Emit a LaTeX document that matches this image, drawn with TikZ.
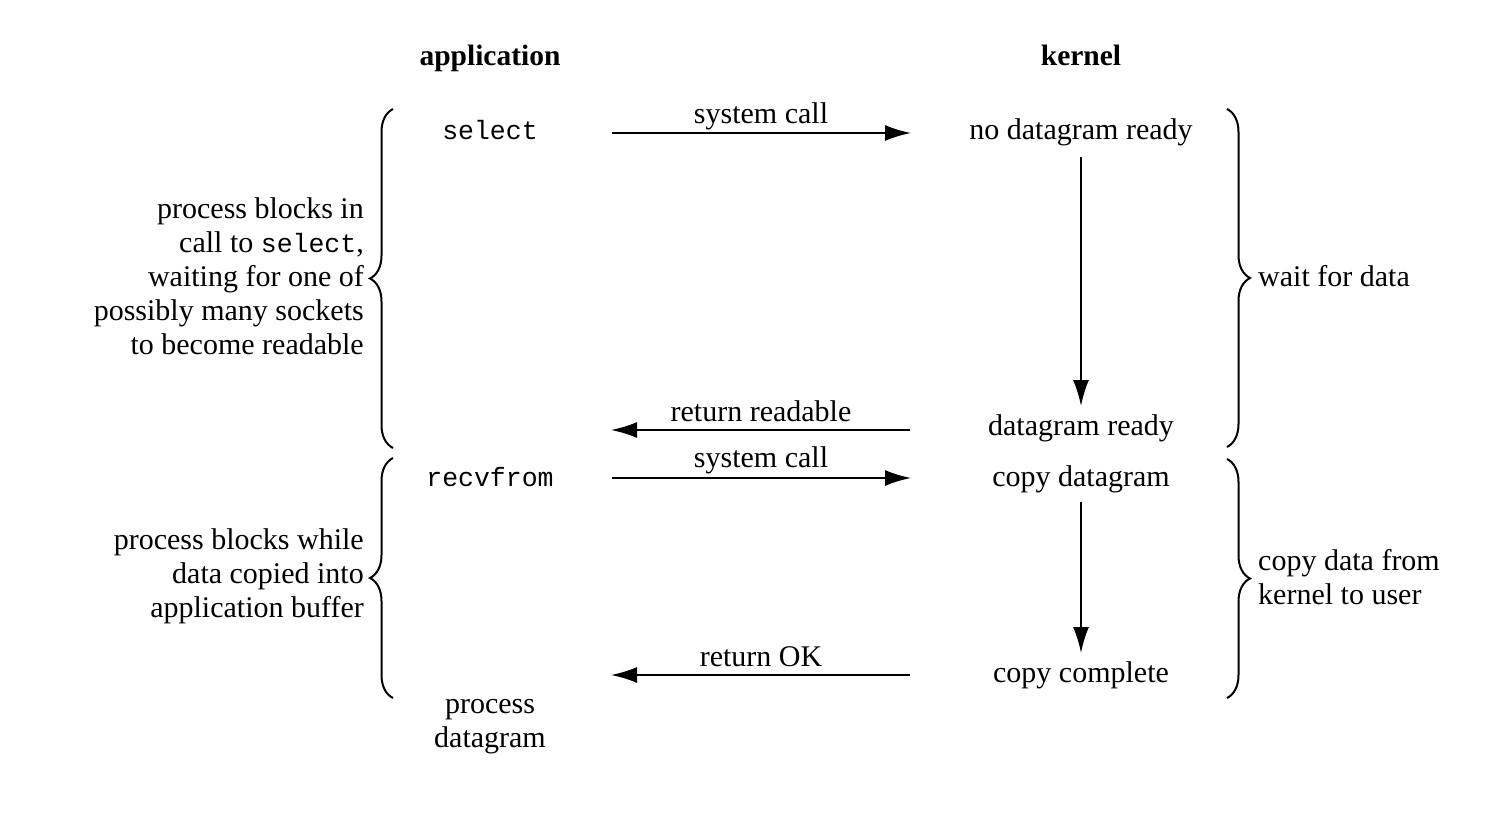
\documentclass[tikz,border=0pt]{standalone}
\usepackage{fontspec}
\setmainfont{Liberation Serif}
\setmonofont{Liberation Mono}
\usetikzlibrary{arrows.meta,decorations.pathreplacing}
\newcommand\codetxt[1]{{\fontsize{26.5}{34}\selectfont\ttfamily #1}}
\begin{document}
\begin{tikzpicture}[x=1pt,y=-1pt,
  txt/.style={inner sep=0pt, font=\fontsize{30}{34}\selectfont},
  code/.style={inner sep=0pt, anchor=base, font=\fontsize{26.5}{34}\selectfont\ttfamily},
  head/.style={inner sep=0pt, anchor=base, font=\fontsize{29.5}{34}\selectfont\bfseries},
  flow/.style={line width=2pt, -{Latex[length=26pt,width=16pt]}},
  brc/.style={line width=2pt, decorate, decoration={brace, amplitude=23pt}}]
\fill[white] (0,0) rectangle (1508,824);
\useasboundingbox (0,0) rectangle (1508,824);

% headers
\node[head] (app) at (490,66) {application};
\node[head] (ker) at (1081,66) {kernel};

% application column
\node[code] (sel) at (490,140) {select};
\node[code] (rcv) at (490,486) {recvfrom};
\node[txt, align=center] (proc) at (490,727) {process\\datagram};

% kernel column
\node[txt] (ndr) at (1081,132) {no datagram ready};
\node[txt] (dr)  at (1081,428) {datagram ready};
\node[txt] (cd)  at (1081,479) {copy datagram};
\node[txt] (cc)  at (1081,675) {copy complete};

% arrow end points
\coordinate (a1s) at (612,133); \coordinate (a1e) at (911,133);
\coordinate (a2s) at (910,430); \coordinate (a2e) at (611,430);
\coordinate (a3s) at (612,478); \coordinate (a3e) at (911,478);
\coordinate (a4s) at (910,675); \coordinate (a4e) at (611,675);
\coordinate (v1s) at (1081,157); \coordinate (v1e) at (1081,406);
\coordinate (v2s) at (1081,502); \coordinate (v2e) at (1081,653);

\draw[flow] (a1s) -- (a1e);
\draw[flow] (a2s) -- (a2e);
\draw[flow] (a3s) -- (a3e);
\draw[flow] (a4s) -- (a4e);
\draw[flow] (v1s) -- (v1e);
\draw[flow] (v2s) -- (v2e);

% arrow labels
\node[txt] (l1) at (761,116) {system call};
\node[txt] (l2) at (761,411) {return readable};
\node[txt] (l3) at (761,460) {system call};
\node[txt] (l4) at (761,657) {return OK};

% braces
\coordinate (lb1t) at (393,109); \coordinate (lb1b) at (393,448);
\coordinate (lb2t) at (393,458); \coordinate (lb2b) at (393,698);
\coordinate (rb1t) at (1227,109); \coordinate (rb1b) at (1227,447);
\coordinate (rb2t) at (1227,459); \coordinate (rb2b) at (1227,698);
\draw[brc] (lb1b) -- (lb1t);
\draw[brc] (lb2b) -- (lb2t);
\draw[brc] (rb1t) -- (rb1b);
\draw[brc] (rb2t) -- (rb2b);

% brace texts
\node[txt, align=right, anchor=east] (lt1) at (364,276)
  {process blocks in\\call to \codetxt{select},\\waiting for one of\\possibly many sockets\\to become readable};
\node[txt, align=right, anchor=east] (lt2) at (364,576)
  {process blocks while\\data copied into\\application buffer};
\node[txt, anchor=west] (rt1) at (1258,276) {wait for data};
\node[txt, align=left, anchor=west] (rt2) at (1258,577) {copy data from\\kernel to user};
\end{tikzpicture}
\end{document}
